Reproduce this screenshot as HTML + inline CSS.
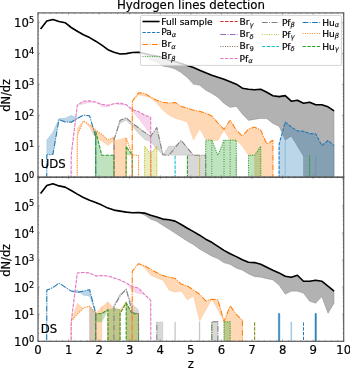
<!DOCTYPE html>
<html><head><meta charset="utf-8"><title>Hydrogen lines detection</title>
<style>html,body{margin:0;padding:0;background:#fff;overflow:hidden}svg{display:block}text{font-family:"DejaVu Sans","Liberation Sans",sans-serif;fill:#000;stroke:#000;stroke-width:0.18px}</style>
</head><body>
<svg width="350" height="368" viewBox="0 0 350 368">
<rect width="350" height="368" fill="#fff"/>
<defs>
<clipPath id="c1"><rect x="38.0" y="12.9" width="305.7" height="164.3"/></clipPath>
<clipPath id="c2"><rect x="38.0" y="177.2" width="305.7" height="164.1"/></clipPath>
</defs>
<g clip-path="url(#c1)">
<polygon points="40.6,29.1 46.8,21.1 52.9,19.5 59.0,21.5 65.1,22.7 71.2,27.5 77.3,31.2 83.4,34.8 89.6,37.6 95.7,41.2 101.8,45.2 107.9,49.7 114.0,52.3 120.1,54.0 126.2,53.6 132.3,52.5 138.5,52.2 144.6,53.5 150.7,55.1 156.8,56.1 162.9,57.5 169.0,60.2 175.1,61.4 181.2,63.4 187.4,65.6 193.5,67.6 199.6,70.2 205.7,72.8 211.8,75.2 217.9,77.3 224.0,79.3 230.2,81.7 236.3,84.2 242.4,88.2 248.5,89.2 254.6,89.8 260.7,89.2 266.8,92.2 272.9,95.8 279.1,96.6 285.2,95.6 291.3,101.2 297.4,100.2 303.5,103.2 309.6,102.2 315.7,104.8 321.8,104.8 328.0,106.8 334.1,110.8 334.1,3000.0 328.0,3000.0 321.8,3000.0 315.7,3000.0 309.6,3000.0 303.5,156.3 297.4,146.2 291.3,136.2 285.2,140.2 279.1,126.4 272.9,123.4 266.8,118.8 260.7,118.4 254.6,119.4 248.5,120.4 242.4,114.3 236.3,106.5 230.2,107.4 224.0,103.4 217.9,97.4 211.8,93.4 205.7,90.3 199.6,85.3 193.5,84.3 187.4,77.8 181.2,72.7 175.1,69.0 169.0,67.2 162.9,66.2 156.8,62.2 150.7,60.2 144.6,55.1 138.5,52.2 132.3,52.5 126.2,53.6 120.1,54.0 114.0,52.3 107.9,49.7 101.8,45.2 95.7,41.2 89.6,37.6 83.4,34.8 77.3,31.2 71.2,27.5 65.1,22.7 59.0,21.5 52.9,19.5 46.8,21.1 40.6,29.1" fill="#000" fill-opacity="0.30" stroke="#000" stroke-opacity="0.24" stroke-width="0.6"/>
<polygon points="40.6,3000.0 46.8,154.9 52.9,154.5 59.0,119.5 65.1,121.9 71.2,122.2 77.3,118.5 83.4,115.1 89.6,115.8 95.7,137.0 101.8,3000.0 101.8,3000.0 95.7,137.0 89.6,115.8 83.4,115.1 77.3,118.3 71.2,115.2 65.1,118.3 59.0,118.6 52.9,132.3 46.8,140.0 40.6,3000.0" fill="#1f77b4" fill-opacity="0.30" stroke="#1f77b4" stroke-opacity="0.24" stroke-width="0.6"/>
<polygon points="71.2,3000.0 77.3,135.5 83.4,120.9 89.6,124.9 95.7,130.0 101.8,134.5 107.9,139.9 114.0,137.4 120.1,3000.0 126.2,137.8 132.3,154.8 138.5,155.5 144.6,3000.0 144.6,3000.0 138.5,155.5 132.3,154.8 126.2,137.8 120.1,139.2 114.0,141.0 107.9,145.5 101.8,141.0 95.7,138.5 89.6,127.5 83.4,120.9 77.3,128.3 71.2,3000.0" fill="#ff7f0e" fill-opacity="0.30" stroke="#ff7f0e" stroke-opacity="0.24" stroke-width="0.6"/>
<polygon points="65.1,3000.0 71.2,155.3 77.3,105.2 83.4,101.2 89.6,100.8 95.7,102.2 101.8,104.2 107.9,105.2 114.0,103.7 120.1,103.0 126.2,104.7 132.3,109.6 138.5,111.6 144.6,115.2 150.7,117.3 156.8,3000.0 156.8,3000.0 150.7,135.0 144.6,126.3 138.5,118.3 132.3,111.2 126.2,105.2 120.1,105.0 114.0,103.7 107.9,107.0 101.8,106.5 95.7,102.2 89.6,102.5 83.4,104.0 77.3,105.2 71.2,155.3 65.1,3000.0" fill="#e377c2" fill-opacity="0.30" stroke="#e377c2" stroke-opacity="0.24" stroke-width="0.6"/>
<polygon points="89.6,3000.0 95.7,131.2 101.8,155.3 107.9,155.3 114.0,155.3 120.1,3000.0 120.1,3000.0 114.0,3000.0 107.9,3000.0 101.8,3000.0 95.7,3000.0 89.6,3000.0" fill="#2ca02c" fill-opacity="0.30" stroke="#2ca02c" stroke-opacity="0.24" stroke-width="0.6"/>
<polygon points="120.1,3000.0 126.2,146.5 132.3,155.0 138.5,3000.0 138.5,3000.0 132.3,155.0 126.2,155.0 120.1,3000.0" fill="#2ca02c" fill-opacity="0.30" stroke="#2ca02c" stroke-opacity="0.24" stroke-width="0.6"/>
<polygon points="107.9,3000.0 114.0,140.0 120.1,120.3 126.2,117.8 132.3,123.3 138.5,127.7 144.6,132.3 150.7,136.3 156.8,127.5 162.9,154.8 162.9,154.8 156.8,149.0 150.7,141.8 144.6,139.4 138.5,133.4 132.3,126.3 126.2,120.3 120.1,123.3 114.0,140.0 107.9,3000.0" fill="#7f7f7f" fill-opacity="0.30" stroke="#7f7f7f" stroke-opacity="0.24" stroke-width="0.6"/>
<polygon points="162.9,154.8 168.7,146.1 174.7,146.1 181.2,140.4 187.4,148.0 193.5,155.2 162.9,155.3" fill="#7f7f7f" fill-opacity="0.30" stroke="#7f7f7f" stroke-opacity="0.24" stroke-width="0.6"/>
<polygon points="187.5,155.2 205.7,155.3 205.8,3000.0 187.5,3000.0" fill="#7f7f7f" fill-opacity="0.30" stroke="#7f7f7f" stroke-opacity="0.24" stroke-width="0.6"/>
<polygon points="138.5,3000.0 144.6,146.2 150.7,154.1 156.8,146.2 162.9,3000.0 162.9,3000.0 156.8,3000.0 150.7,3000.0 144.6,3000.0 138.5,3000.0" fill="#bcbd22" fill-opacity="0.30" stroke="#bcbd22" stroke-opacity="0.24" stroke-width="0.6"/>
<polygon points="126.2,3000.0 132.3,101.2 138.5,92.7 144.6,93.5 150.7,97.1 156.8,100.2 162.9,102.2 169.0,103.2 175.1,102.4 181.2,106.4 187.4,108.2 193.5,110.2 199.6,111.2 205.7,113.2 211.8,116.0 217.9,123.0 224.0,129.3 230.2,120.2 236.3,130.2 242.4,136.2 248.5,129.1 254.6,127.1 260.7,130.1 266.8,144.2 272.9,140.2 279.1,3000.0 279.1,3000.0 272.9,3000.0 266.8,3000.0 260.7,3000.0 254.6,155.3 248.5,155.3 242.4,146.2 236.3,140.2 230.2,140.3 224.0,130.2 217.9,140.4 211.8,140.4 205.7,139.3 199.6,128.7 193.5,140.3 187.4,122.2 181.2,120.0 175.1,118.2 169.0,115.2 162.9,110.2 156.8,103.2 150.7,98.1 144.6,96.1 138.5,95.1 132.3,101.2 126.2,3000.0" fill="#ff7f0e" fill-opacity="0.30" stroke="#ff7f0e" stroke-opacity="0.24" stroke-width="0.6"/>
<polygon points="199.6,3000.0 205.7,140.2 211.8,140.2 217.9,155.3 224.0,140.2 230.2,140.2 236.3,140.2 242.4,3000.0 242.4,3000.0 236.3,3000.0 230.2,3000.0 224.0,3000.0 217.9,3000.0 211.8,3000.0 205.7,3000.0 199.6,3000.0" fill="#2ca02c" fill-opacity="0.30" stroke="#2ca02c" stroke-opacity="0.24" stroke-width="0.6"/>
<polygon points="242.4,3000.0 248.5,155.3 254.6,155.3 260.7,146.2 266.8,3000.0 266.8,3000.0 260.7,3000.0 254.6,3000.0 248.5,3000.0 242.4,3000.0" fill="#2ca02c" fill-opacity="0.30" stroke="#2ca02c" stroke-opacity="0.24" stroke-width="0.6"/>
<polygon points="272.9,3000.0 279.1,144.2 285.2,122.1 291.3,127.0 297.4,131.0 303.5,131.2 309.6,133.6 315.7,133.7 321.8,145.6 328.0,140.5 334.1,145.6 334.1,3000.0 328.0,3000.0 321.8,3000.0 315.7,3000.0 309.6,3000.0 303.5,3000.0 297.4,3000.0 291.3,3000.0 285.2,3000.0 279.1,3000.0 272.9,3000.0" fill="#1f77b4" fill-opacity="0.30" stroke="#1f77b4" stroke-opacity="0.24" stroke-width="0.6"/>
<polyline points="40.6,3000.0 46.8,154.9 52.9,154.5 59.0,119.5 65.1,121.9 71.2,122.2 77.3,118.5 83.4,115.1 89.6,115.8 95.7,137.0 101.8,3000.0" fill="none" stroke="#1f77b4" stroke-width="1.05" stroke-dasharray="5.7,1.45,0.9,1.45" stroke-linejoin="round"/>
<polyline points="71.2,3000.0 77.3,135.5 83.4,120.9 89.6,124.9 95.7,130.0 101.8,134.5 107.9,139.9 114.0,137.4 120.1,3000.0 126.2,137.8 132.3,154.8 138.5,155.5 144.6,3000.0" fill="none" stroke="#ff7f0e" stroke-width="1.05" stroke-dasharray="0.9,1.45" stroke-linejoin="round"/>
<polyline points="65.1,3000.0 71.2,155.3 77.3,105.2 83.4,101.2 89.6,100.8 95.7,102.2 101.8,104.2 107.9,105.2 114.0,103.7 120.1,103.0 126.2,104.7 132.3,109.6 138.5,111.6 144.6,115.2 150.7,117.3 156.8,3000.0" fill="none" stroke="#e377c2" stroke-width="1.05" stroke-dasharray="3.3,1.45" stroke-linejoin="round"/>
<polyline points="89.6,3000.0 95.7,131.2 101.8,155.3 107.9,155.3 114.0,155.3 120.1,3000.0" fill="none" stroke="#2ca02c" stroke-width="1.05" stroke-dasharray="3.3,1.45" stroke-linejoin="round"/>
<polyline points="120.1,3000.0 126.2,146.5 132.3,155.0 138.5,3000.0" fill="none" stroke="#2ca02c" stroke-width="1.05" stroke-dasharray="3.3,1.45" stroke-linejoin="round"/>
<polyline points="181.2,3000.0 187.4,155.3 193.5,3000.0" fill="none" stroke="#2ca02c" stroke-width="1.05" stroke-dasharray="3.3,1.45" stroke-linejoin="round"/>
<polyline points="107.9,3000.0 114.0,140.0 120.1,120.3 126.2,117.8 132.3,123.3 138.5,127.7 144.6,132.3 150.7,136.3 156.8,127.5 162.9,154.8 169.0,155.2 175.1,147.7 181.2,140.4 187.4,148.0 193.5,155.2 199.6,155.3 205.7,155.3 211.8,3000.0" fill="none" stroke="#7f7f7f" stroke-width="1.05" stroke-dasharray="5.7,1.45,0.9,1.45" stroke-linejoin="round"/>
<polyline points="138.5,3000.0 144.6,146.2 150.7,154.1 156.8,146.2 162.9,3000.0" fill="none" stroke="#bcbd22" stroke-width="1.05" stroke-dasharray="0.9,1.45" stroke-linejoin="round"/>
<polyline points="193.5,3000.0 199.6,155.3 205.7,3000.0" fill="none" stroke="#bcbd22" stroke-width="1.05" stroke-dasharray="0.9,1.45" stroke-linejoin="round"/>
<polyline points="150.7,154.1 150.7,3000.0" fill="none" stroke="#bcbd22" stroke-width="1.05" stroke-dasharray="0.9,1.45" stroke-linejoin="round"/>
<polyline points="150.7,155.2 150.7,3000.0" fill="none" stroke="#ff7f0e" stroke-width="1.05" stroke-dasharray="0.9,1.45" stroke-linejoin="round"/>
<polyline points="169.0,3000.0 175.1,155.3 181.2,3000.0" fill="none" stroke="#17becf" stroke-width="1.05" stroke-dasharray="3.3,1.45" stroke-linejoin="round"/>
<polyline points="126.2,3000.0 132.3,101.2 138.5,92.7 144.6,93.5 150.7,97.1 156.8,100.2 162.9,102.2 169.0,103.2 175.1,102.4 181.2,106.4 187.4,108.2 193.5,110.2 199.6,111.2 205.7,113.2 211.8,116.0 217.9,123.0 224.0,129.3 230.2,120.2 236.3,130.2 242.4,136.2 248.5,129.1 254.6,127.1 260.7,130.1 266.8,144.2 272.9,140.2 279.1,3000.0" fill="none" stroke="#ff7f0e" stroke-width="1.05" stroke-dasharray="5.7,1.45,0.9,1.45" stroke-linejoin="round"/>
<polyline points="199.6,3000.0 205.7,140.2 211.8,140.2 217.9,155.3 224.0,140.2 230.2,140.2 236.3,140.2 242.4,3000.0" fill="none" stroke="#2ca02c" stroke-width="1.05" stroke-dasharray="0.9,1.45" stroke-linejoin="round"/>
<polyline points="242.4,3000.0 248.5,155.3 254.6,155.3 260.7,146.2 266.8,3000.0" fill="none" stroke="#2ca02c" stroke-width="1.05" stroke-dasharray="0.9,1.45" stroke-linejoin="round"/>
<polyline points="303.5,3000.0 309.6,155.3 315.7,3000.0" fill="none" stroke="#2ca02c" stroke-width="1.05" stroke-dasharray="0.9,1.45" stroke-linejoin="round"/>
<polyline points="211.8,140.2 211.8,3000.0" fill="none" stroke="#2ca02c" stroke-width="1.05" stroke-dasharray="0.9,1.45" stroke-linejoin="round"/>
<polyline points="224.0,140.2 224.0,3000.0" fill="none" stroke="#2ca02c" stroke-width="1.05" stroke-dasharray="0.9,1.45" stroke-linejoin="round"/>
<polyline points="230.2,140.2 230.2,3000.0" fill="none" stroke="#2ca02c" stroke-width="1.05" stroke-dasharray="0.9,1.45" stroke-linejoin="round"/>
<polyline points="272.9,3000.0 279.1,144.2 285.2,122.1 291.3,127.0 297.4,131.0 303.5,131.2 309.6,133.6 315.7,133.7 321.8,145.6 328.0,140.5 334.1,145.6" fill="none" stroke="#1f77b4" stroke-width="1.05" stroke-dasharray="3.3,1.45" stroke-linejoin="round"/>
<polyline points="285.2,140.5 285.2,3000.0" fill="none" stroke="#1f77b4" stroke-width="0.60" stroke-opacity="0.45" stroke-linejoin="round"/>
<polyline points="315.7,155.3 315.7,3000.0" fill="none" stroke="#1f77b4" stroke-width="0.60" stroke-opacity="0.45" stroke-linejoin="round"/>
<polyline points="236.3,156.5 236.3,3000.0" fill="none" stroke="#7f7f7f" stroke-width="0.60" stroke-opacity="0.60" stroke-linejoin="round"/>
<polyline points="40.6,29.1 46.8,21.1 52.9,19.5 59.0,21.5 65.1,22.7 71.2,27.5 77.3,31.2 83.4,34.8 89.6,37.6 95.7,41.2 101.8,45.2 107.9,49.7 114.0,52.3 120.1,54.0 126.2,53.6 132.3,52.5 138.5,52.2 144.6,53.5 150.7,55.1 156.8,56.1 162.9,57.5 169.0,60.2 175.1,61.4 181.2,63.4 187.4,65.6 193.5,67.6 199.6,70.2 205.7,72.8 211.8,75.2 217.9,77.3 224.0,79.3 230.2,81.7 236.3,84.2 242.4,88.2 248.5,89.2 254.6,89.8 260.7,89.2 266.8,92.2 272.9,95.8 279.1,96.6 285.2,95.6 291.3,101.2 297.4,100.2 303.5,103.2 309.6,102.2 315.7,104.8 321.8,104.8 328.0,106.8 334.1,110.8" fill="none" stroke="#000" stroke-width="1.60" stroke-linejoin="round"/>
</g>
<g clip-path="url(#c2)">
<polygon points="40.6,193.5 46.8,185.5 52.9,183.7 59.0,185.9 65.1,187.1 71.2,190.5 77.3,194.1 83.4,197.5 89.6,200.2 95.7,202.5 101.8,205.1 107.9,208.1 114.0,210.1 120.1,211.1 126.2,212.1 132.3,212.7 138.5,212.5 144.6,213.1 150.7,215.2 156.8,216.9 162.9,219.1 169.0,219.7 175.1,221.1 181.2,224.5 187.4,228.2 193.5,231.6 199.6,235.2 205.7,239.2 211.8,242.3 217.9,246.4 224.0,250.4 230.2,253.7 236.3,256.6 242.4,259.8 248.5,262.2 254.6,262.6 260.7,264.2 266.8,267.2 272.9,270.2 279.1,272.9 285.2,276.2 291.3,277.2 297.4,275.2 303.5,281.2 309.6,281.2 315.7,280.2 321.8,281.2 328.0,286.2 334.1,291.2 334.1,303.3 328.0,313.4 321.8,296.7 315.7,303.3 309.6,301.3 303.5,293.3 297.4,291.2 291.3,291.2 285.2,294.3 279.1,285.2 272.9,279.9 266.8,278.7 260.7,277.3 254.6,276.7 248.5,273.9 242.4,270.2 236.3,268.2 230.2,264.6 224.0,262.8 217.9,258.8 211.8,256.3 205.7,252.7 199.6,249.3 193.5,244.7 187.4,241.2 181.2,237.2 175.1,233.2 169.0,229.2 162.9,225.5 156.8,221.6 150.7,219.2 144.6,215.2 138.5,212.5 132.3,212.7 126.2,212.1 120.1,211.1 114.0,210.1 107.9,208.1 101.8,205.1 95.7,202.5 89.6,200.2 83.4,197.5 77.3,194.1 71.2,190.5 65.1,187.1 59.0,185.9 52.9,183.7 46.8,185.5 40.6,193.5" fill="#000" fill-opacity="0.30" stroke="#000" stroke-opacity="0.24" stroke-width="0.6"/>
<polygon points="40.6,3000.0 46.8,290.1 52.9,287.7 59.0,283.1 65.1,287.1 71.2,291.1 77.3,292.5 83.4,291.1 89.6,289.7 95.7,313.3 101.8,3000.0 101.8,3000.0 95.7,313.3 89.6,296.2 83.4,295.2 77.3,290.1 71.2,291.1 65.1,287.1 59.0,283.1 52.9,287.7 46.8,290.1 40.6,3000.0" fill="#1f77b4" fill-opacity="0.30" stroke="#1f77b4" stroke-opacity="0.24" stroke-width="0.6"/>
<polygon points="65.1,3000.0 71.2,322.5 77.3,273.0 83.4,272.4 89.6,273.0 95.7,276.0 101.8,275.6 107.9,276.0 114.0,278.0 120.1,280.1 126.2,282.9 132.3,286.6 138.5,288.0 144.6,294.6 150.7,300.3 156.8,3000.0 156.8,3000.0 150.7,300.3 144.6,294.6 138.5,293.5 132.3,291.0 126.2,282.9 120.1,280.1 114.0,278.0 107.9,276.0 101.8,275.6 95.7,276.0 89.6,273.0 83.4,272.4 77.3,273.0 71.2,322.5 65.1,3000.0" fill="#e377c2" fill-opacity="0.30" stroke="#e377c2" stroke-opacity="0.24" stroke-width="0.6"/>
<polygon points="71.2,321.3 77.3,314.3 83.4,308.2 89.6,306.2 83.4,308.2 77.3,303.2" fill="#ff7f0e" fill-opacity="0.30" stroke="#ff7f0e" stroke-opacity="0.24" stroke-width="0.6"/>
<polygon points="89.6,306.2 95.7,313.3 95.7,3000.0 89.6,3000.0" fill="#ff7f0e" fill-opacity="0.30" stroke="#ff7f0e" stroke-opacity="0.24" stroke-width="0.6"/>
<polygon points="89.6,306.2 95.7,313.3 95.7,3000.0 89.6,3000.0" fill="#1f77b4" fill-opacity="0.18" stroke="#1f77b4" stroke-opacity="0.14" stroke-width="0.6"/>
<polygon points="95.7,313.3 101.8,306.8 101.8,3000.0 95.7,3000.0" fill="#ff7f0e" fill-opacity="0.30" stroke="#ff7f0e" stroke-opacity="0.24" stroke-width="0.6"/>
<polygon points="101.8,306.8 107.9,301.9 107.9,309.8 101.8,313.5" fill="#ff7f0e" fill-opacity="0.30" stroke="#ff7f0e" stroke-opacity="0.24" stroke-width="0.6"/>
<polygon points="107.9,301.9 114.0,308.2 120.1,309.6 120.1,3000.0 107.9,3000.0" fill="#ff7f0e" fill-opacity="0.30" stroke="#ff7f0e" stroke-opacity="0.24" stroke-width="0.6"/>
<polygon points="120.1,309.6 126.2,301.6 126.2,302.8 120.1,313.6" fill="#ff7f0e" fill-opacity="0.30" stroke="#ff7f0e" stroke-opacity="0.24" stroke-width="0.6"/>
<polygon points="126.2,302.8 132.3,313.8 138.5,313.8 138.5,3000.0 126.2,3000.0" fill="#ff7f0e" fill-opacity="0.30" stroke="#ff7f0e" stroke-opacity="0.24" stroke-width="0.6"/>
<polygon points="95.7,313.9 101.8,313.5 107.9,309.8 101.8,321.8 95.7,321.8" fill="#2ca02c" fill-opacity="0.30" stroke="#2ca02c" stroke-opacity="0.24" stroke-width="0.6"/>
<polygon points="107.9,309.8 114.0,308.2 120.1,309.6 120.1,3000.0 107.9,3000.0" fill="#2ca02c" fill-opacity="0.30" stroke="#2ca02c" stroke-opacity="0.24" stroke-width="0.6"/>
<polygon points="126.2,302.8 132.3,313.8 138.5,313.8 138.5,3000.0 126.2,3000.0" fill="#2ca02c" fill-opacity="0.30" stroke="#2ca02c" stroke-opacity="0.24" stroke-width="0.6"/>
<polygon points="114.0,306.5 120.1,296.0 126.2,289.1 132.3,312.6 138.5,313.7 138.5,309.7 132.3,304.6 126.2,289.1 120.1,293.8 114.0,304.5" fill="#7f7f7f" fill-opacity="0.30" stroke="#7f7f7f" stroke-opacity="0.24" stroke-width="0.6"/>
<polygon points="156.8,322.0 162.9,322.0 162.9,3000.0 156.8,3000.0" fill="#7f7f7f" fill-opacity="0.30" stroke="#7f7f7f" stroke-opacity="0.24" stroke-width="0.6"/>
<polygon points="211.8,321.8 217.9,321.8 217.9,3000.0 211.8,3000.0" fill="#7f7f7f" fill-opacity="0.30" stroke="#7f7f7f" stroke-opacity="0.24" stroke-width="0.6"/>
<polygon points="126.2,3000.0 132.3,271.1 138.5,263.7 144.6,265.7 150.7,269.3 156.8,272.7 162.9,275.6 169.0,277.1 175.1,278.4 181.2,284.1 187.4,286.0 193.5,290.0 199.6,294.2 205.7,300.9 211.8,299.2 217.9,299.8 224.0,321.5 230.2,305.8 236.3,314.3 242.4,320.3 248.5,3000.0 248.5,3000.0 242.4,3000.0 236.3,3000.0 230.2,3000.0 224.0,321.5 217.9,310.0 211.8,299.2 205.7,310.2 199.6,321.2 193.5,296.0 187.4,300.0 181.2,291.1 175.1,292.2 169.0,290.2 162.9,280.2 156.8,278.0 150.7,275.2 144.6,268.1 138.5,263.7 132.3,271.1 126.2,3000.0" fill="#ff7f0e" fill-opacity="0.30" stroke="#ff7f0e" stroke-opacity="0.24" stroke-width="0.6"/>
<polygon points="224.0,321.8 230.2,321.8 230.2,3000.0 224.0,3000.0" fill="#2ca02c" fill-opacity="0.30" stroke="#2ca02c" stroke-opacity="0.24" stroke-width="0.6"/>
<polygon points="278.4,313.5 279.8,313.5 279.8,3000.0 278.4,3000.0" fill="#1f77b4" fill-opacity="0.90" stroke="#1f77b4" stroke-opacity="0.72" stroke-width="0.6"/>
<polygon points="315.0,313.5 316.4,313.5 316.4,3000.0 315.0,3000.0" fill="#1f77b4" fill-opacity="0.90" stroke="#1f77b4" stroke-opacity="0.72" stroke-width="0.6"/>
<polygon points="290.8,322.0 291.8,322.0 291.8,3000.0 290.8,3000.0" fill="#1f77b4" fill-opacity="0.35" stroke="#1f77b4" stroke-opacity="0.28" stroke-width="0.6"/>
<polygon points="174.7,322.0 175.5,322.0 175.5,3000.0 174.7,3000.0" fill="#7f7f7f" fill-opacity="0.35" stroke="#7f7f7f" stroke-opacity="0.28" stroke-width="0.6"/>
<polygon points="199.2,322.0 200.0,322.0 200.0,3000.0 199.2,3000.0" fill="#7f7f7f" fill-opacity="0.35" stroke="#7f7f7f" stroke-opacity="0.28" stroke-width="0.6"/>
<polyline points="40.6,3000.0 46.8,290.1 52.9,287.7 59.0,283.1 65.1,287.1 71.2,291.1 77.3,292.5 83.4,291.1 89.6,289.7 95.7,313.3 101.8,3000.0" fill="none" stroke="#1f77b4" stroke-width="1.05" stroke-dasharray="5.7,1.45,0.9,1.45" stroke-linejoin="round"/>
<polyline points="65.1,3000.0 71.2,321.3 77.3,314.3 83.4,308.2 89.6,306.2 95.7,313.3 95.7,3000.0" fill="none" stroke="#ff7f0e" stroke-width="1.05" stroke-dasharray="0.9,1.45" stroke-linejoin="round"/>
<polyline points="95.7,313.5 101.8,313.5 107.9,309.8 107.9,3000.0" fill="none" stroke="#ff7f0e" stroke-width="1.05" stroke-dasharray="0.9,1.45" stroke-linejoin="round"/>
<polyline points="114.0,3000.0 120.1,313.6 126.2,302.8 132.3,313.8 138.5,313.8 144.6,3000.0" fill="none" stroke="#ff7f0e" stroke-width="1.05" stroke-dasharray="0.9,1.45" stroke-linejoin="round"/>
<polyline points="65.1,3000.0 71.2,322.5 77.3,273.0 83.4,272.4 89.6,273.0 95.7,276.0 101.8,275.6 107.9,276.0 114.0,278.0 120.1,280.1 126.2,282.9 132.3,286.6 138.5,288.0 144.6,294.6 150.7,300.3 156.8,3000.0" fill="none" stroke="#e377c2" stroke-width="1.05" stroke-dasharray="3.3,1.45" stroke-linejoin="round"/>
<polyline points="89.6,3000.0 95.7,313.9 101.8,313.5 107.9,309.8 114.0,3000.0" fill="none" stroke="#2ca02c" stroke-width="1.05" stroke-dasharray="3.3,1.45" stroke-linejoin="round"/>
<polyline points="114.0,3000.0 120.1,313.6 126.2,302.8 132.3,313.8 138.5,313.8 144.6,3000.0" fill="none" stroke="#2ca02c" stroke-width="1.05" stroke-dasharray="3.3,1.45" stroke-linejoin="round"/>
<polyline points="126.2,302.8 126.2,3000.0" fill="none" stroke="#2ca02c" stroke-width="1.05" stroke-dasharray="3.3,1.45" stroke-linejoin="round"/>
<polyline points="107.9,3000.0 114.0,306.5 120.1,296.0 126.2,289.1 132.3,312.6 138.5,313.7 144.6,3000.0" fill="none" stroke="#7f7f7f" stroke-width="1.05" stroke-dasharray="5.7,1.45,0.9,1.45" stroke-linejoin="round"/>
<polyline points="156.8,3000.0 156.8,322.0" fill="none" stroke="#7f7f7f" stroke-width="1.05" stroke-dasharray="5.7,1.45,0.9,1.45" stroke-linejoin="round"/>
<polyline points="211.8,3000.0 211.8,321.8 217.9,321.8 217.9,3000.0" fill="none" stroke="#7f7f7f" stroke-width="1.05" stroke-dasharray="5.7,1.45,0.9,1.45" stroke-linejoin="round"/>
<polyline points="126.2,3000.0 132.3,271.1 138.5,263.7 144.6,265.7 150.7,269.3 156.8,272.7 162.9,275.6 169.0,277.1 175.1,278.4 181.2,284.1 187.4,286.0 193.5,290.0 199.6,294.2 205.7,300.9 211.8,299.2 217.9,299.8 224.0,321.5 230.2,305.8 236.3,314.3 242.4,320.3 248.5,3000.0" fill="none" stroke="#ff7f0e" stroke-width="1.05" stroke-dasharray="5.7,1.45,0.9,1.45" stroke-linejoin="round"/>
<polyline points="211.8,3000.0 211.8,321.8" fill="none" stroke="#2ca02c" stroke-width="1.05" stroke-dasharray="0.9,1.45" stroke-linejoin="round"/>
<polyline points="224.0,3000.0 224.0,321.8 230.2,321.8 230.2,3000.0" fill="none" stroke="#2ca02c" stroke-width="1.05" stroke-dasharray="0.9,1.45" stroke-linejoin="round"/>
<polyline points="254.6,3000.0 254.6,321.9" fill="none" stroke="#2ca02c" stroke-width="1.05" stroke-dasharray="3.3,1.45" stroke-linejoin="round"/>
<polyline points="254.6,3000.0 254.6,321.9" fill="none" stroke="#ff7f0e" stroke-width="1.05" stroke-dasharray="0.9,1.45" stroke-linejoin="round"/>
<polyline points="303.5,3000.0 303.5,322.0" fill="none" stroke="#1f77b4" stroke-width="1.05" stroke-dasharray="3.3,1.45" stroke-linejoin="round"/>
<polyline points="40.6,193.5 46.8,185.5 52.9,183.7 59.0,185.9 65.1,187.1 71.2,190.5 77.3,194.1 83.4,197.5 89.6,200.2 95.7,202.5 101.8,205.1 107.9,208.1 114.0,210.1 120.1,211.1 126.2,212.1 132.3,212.7 138.5,212.5 144.6,213.1 150.7,215.2 156.8,216.9 162.9,219.1 169.0,219.7 175.1,221.1 181.2,224.5 187.4,228.2 193.5,231.6 199.6,235.2 205.7,239.2 211.8,242.3 217.9,246.4 224.0,250.4 230.2,253.7 236.3,256.6 242.4,259.8 248.5,262.2 254.6,262.6 260.7,264.2 266.8,267.2 272.9,270.2 279.1,272.9 285.2,276.2 291.3,277.2 297.4,275.2 303.5,281.2 309.6,281.2 315.7,280.2 321.8,281.2 328.0,286.2 334.1,291.2" fill="none" stroke="#000" stroke-width="1.60" stroke-linejoin="round"/>
</g>
<g>
<path d="M38.00 177.20v-1.80 M38.00 12.90v1.80 M44.11 177.20v-1.10 M44.11 12.90v1.10 M50.23 177.20v-1.10 M50.23 12.90v1.10 M56.34 177.20v-1.10 M56.34 12.90v1.10 M62.46 177.20v-1.10 M62.46 12.90v1.10 M68.57 177.20v-1.80 M68.57 12.90v1.80 M74.68 177.20v-1.10 M74.68 12.90v1.10 M80.80 177.20v-1.10 M80.80 12.90v1.10 M86.91 177.20v-1.10 M86.91 12.90v1.10 M93.03 177.20v-1.10 M93.03 12.90v1.10 M99.14 177.20v-1.80 M99.14 12.90v1.80 M105.25 177.20v-1.10 M105.25 12.90v1.10 M111.37 177.20v-1.10 M111.37 12.90v1.10 M117.48 177.20v-1.10 M117.48 12.90v1.10 M123.60 177.20v-1.10 M123.60 12.90v1.10 M129.71 177.20v-1.80 M129.71 12.90v1.80 M135.82 177.20v-1.10 M135.82 12.90v1.10 M141.94 177.20v-1.10 M141.94 12.90v1.10 M148.05 177.20v-1.10 M148.05 12.90v1.10 M154.17 177.20v-1.10 M154.17 12.90v1.10 M160.28 177.20v-1.80 M160.28 12.90v1.80 M166.39 177.20v-1.10 M166.39 12.90v1.10 M172.51 177.20v-1.10 M172.51 12.90v1.10 M178.62 177.20v-1.10 M178.62 12.90v1.10 M184.74 177.20v-1.10 M184.74 12.90v1.10 M190.85 177.20v-1.80 M190.85 12.90v1.80 M196.96 177.20v-1.10 M196.96 12.90v1.10 M203.08 177.20v-1.10 M203.08 12.90v1.10 M209.19 177.20v-1.10 M209.19 12.90v1.10 M215.31 177.20v-1.10 M215.31 12.90v1.10 M221.42 177.20v-1.80 M221.42 12.90v1.80 M227.53 177.20v-1.10 M227.53 12.90v1.10 M233.65 177.20v-1.10 M233.65 12.90v1.10 M239.76 177.20v-1.10 M239.76 12.90v1.10 M245.88 177.20v-1.10 M245.88 12.90v1.10 M251.99 177.20v-1.80 M251.99 12.90v1.80 M258.10 177.20v-1.10 M258.10 12.90v1.10 M264.22 177.20v-1.10 M264.22 12.90v1.10 M270.33 177.20v-1.10 M270.33 12.90v1.10 M276.45 177.20v-1.10 M276.45 12.90v1.10 M282.56 177.20v-1.80 M282.56 12.90v1.80 M288.67 177.20v-1.10 M288.67 12.90v1.10 M294.79 177.20v-1.10 M294.79 12.90v1.10 M300.90 177.20v-1.10 M300.90 12.90v1.10 M307.02 177.20v-1.10 M307.02 12.90v1.10 M313.13 177.20v-1.80 M313.13 12.90v1.80 M319.24 177.20v-1.10 M319.24 12.90v1.10 M325.36 177.20v-1.10 M325.36 12.90v1.10 M331.47 177.20v-1.10 M331.47 12.90v1.10 M337.59 177.20v-1.10 M337.59 12.90v1.10 M343.70 177.20v-1.80 M343.70 12.90v1.80 M38.00 341.30v-1.80 M38.00 177.20v1.80 M44.11 341.30v-1.10 M44.11 177.20v1.10 M50.23 341.30v-1.10 M50.23 177.20v1.10 M56.34 341.30v-1.10 M56.34 177.20v1.10 M62.46 341.30v-1.10 M62.46 177.20v1.10 M68.57 341.30v-1.80 M68.57 177.20v1.80 M74.68 341.30v-1.10 M74.68 177.20v1.10 M80.80 341.30v-1.10 M80.80 177.20v1.10 M86.91 341.30v-1.10 M86.91 177.20v1.10 M93.03 341.30v-1.10 M93.03 177.20v1.10 M99.14 341.30v-1.80 M99.14 177.20v1.80 M105.25 341.30v-1.10 M105.25 177.20v1.10 M111.37 341.30v-1.10 M111.37 177.20v1.10 M117.48 341.30v-1.10 M117.48 177.20v1.10 M123.60 341.30v-1.10 M123.60 177.20v1.10 M129.71 341.30v-1.80 M129.71 177.20v1.80 M135.82 341.30v-1.10 M135.82 177.20v1.10 M141.94 341.30v-1.10 M141.94 177.20v1.10 M148.05 341.30v-1.10 M148.05 177.20v1.10 M154.17 341.30v-1.10 M154.17 177.20v1.10 M160.28 341.30v-1.80 M160.28 177.20v1.80 M166.39 341.30v-1.10 M166.39 177.20v1.10 M172.51 341.30v-1.10 M172.51 177.20v1.10 M178.62 341.30v-1.10 M178.62 177.20v1.10 M184.74 341.30v-1.10 M184.74 177.20v1.10 M190.85 341.30v-1.80 M190.85 177.20v1.80 M196.96 341.30v-1.10 M196.96 177.20v1.10 M203.08 341.30v-1.10 M203.08 177.20v1.10 M209.19 341.30v-1.10 M209.19 177.20v1.10 M215.31 341.30v-1.10 M215.31 177.20v1.10 M221.42 341.30v-1.80 M221.42 177.20v1.80 M227.53 341.30v-1.10 M227.53 177.20v1.10 M233.65 341.30v-1.10 M233.65 177.20v1.10 M239.76 341.30v-1.10 M239.76 177.20v1.10 M245.88 341.30v-1.10 M245.88 177.20v1.10 M251.99 341.30v-1.80 M251.99 177.20v1.80 M258.10 341.30v-1.10 M258.10 177.20v1.10 M264.22 341.30v-1.10 M264.22 177.20v1.10 M270.33 341.30v-1.10 M270.33 177.20v1.10 M276.45 341.30v-1.10 M276.45 177.20v1.10 M282.56 341.30v-1.80 M282.56 177.20v1.80 M288.67 341.30v-1.10 M288.67 177.20v1.10 M294.79 341.30v-1.10 M294.79 177.20v1.10 M300.90 341.30v-1.10 M300.90 177.20v1.10 M307.02 341.30v-1.10 M307.02 177.20v1.10 M313.13 341.30v-1.80 M313.13 177.20v1.80 M319.24 341.30v-1.10 M319.24 177.20v1.10 M325.36 341.30v-1.10 M325.36 177.20v1.10 M331.47 341.30v-1.10 M331.47 177.20v1.10 M337.59 341.30v-1.10 M337.59 177.20v1.10 M343.70 341.30v-1.80 M343.70 177.20v1.80 M38.00 177.20h1.80 M343.70 177.20h-1.80 M38.00 167.87h1.10 M343.70 167.87h-1.10 M38.00 162.41h1.10 M343.70 162.41h-1.10 M38.00 158.54h1.10 M343.70 158.54h-1.10 M38.00 155.54h1.10 M343.70 155.54h-1.10 M38.00 153.08h1.10 M343.70 153.08h-1.10 M38.00 151.01h1.10 M343.70 151.01h-1.10 M38.00 149.21h1.10 M343.70 149.21h-1.10 M38.00 147.62h1.10 M343.70 147.62h-1.10 M38.00 146.21h1.80 M343.70 146.21h-1.80 M38.00 136.88h1.10 M343.70 136.88h-1.10 M38.00 131.42h1.10 M343.70 131.42h-1.10 M38.00 127.55h1.10 M343.70 127.55h-1.10 M38.00 124.54h1.10 M343.70 124.54h-1.10 M38.00 122.09h1.10 M343.70 122.09h-1.10 M38.00 120.01h1.10 M343.70 120.01h-1.10 M38.00 118.22h1.10 M343.70 118.22h-1.10 M38.00 116.63h1.10 M343.70 116.63h-1.10 M38.00 115.21h1.80 M343.70 115.21h-1.80 M38.00 105.88h1.10 M343.70 105.88h-1.10 M38.00 100.42h1.10 M343.70 100.42h-1.10 M38.00 96.55h1.10 M343.70 96.55h-1.10 M38.00 93.55h1.10 M343.70 93.55h-1.10 M38.00 91.09h1.10 M343.70 91.09h-1.10 M38.00 89.02h1.10 M343.70 89.02h-1.10 M38.00 87.22h1.10 M343.70 87.22h-1.10 M38.00 85.64h1.10 M343.70 85.64h-1.10 M38.00 84.22h1.80 M343.70 84.22h-1.80 M38.00 74.89h1.10 M343.70 74.89h-1.10 M38.00 69.43h1.10 M343.70 69.43h-1.10 M38.00 65.56h1.10 M343.70 65.56h-1.10 M38.00 62.55h1.10 M343.70 62.55h-1.10 M38.00 60.10h1.10 M343.70 60.10h-1.10 M38.00 58.03h1.10 M343.70 58.03h-1.10 M38.00 56.23h1.10 M343.70 56.23h-1.10 M38.00 54.64h1.10 M343.70 54.64h-1.10 M38.00 53.22h1.80 M343.70 53.22h-1.80 M38.00 43.89h1.10 M343.70 43.89h-1.10 M38.00 38.44h1.10 M343.70 38.44h-1.10 M38.00 34.56h1.10 M343.70 34.56h-1.10 M38.00 31.56h1.10 M343.70 31.56h-1.10 M38.00 29.11h1.10 M343.70 29.11h-1.10 M38.00 27.03h1.10 M343.70 27.03h-1.10 M38.00 25.23h1.10 M343.70 25.23h-1.10 M38.00 23.65h1.10 M343.70 23.65h-1.10 M38.00 22.23h1.80 M343.70 22.23h-1.80 M38.00 12.90h1.10 M343.70 12.90h-1.10 M38.00 341.30h1.80 M343.70 341.30h-1.80 M38.00 333.14h1.10 M343.70 333.14h-1.10 M38.00 328.37h1.10 M343.70 328.37h-1.10 M38.00 324.98h1.10 M343.70 324.98h-1.10 M38.00 322.36h1.10 M343.70 322.36h-1.10 M38.00 320.21h1.10 M343.70 320.21h-1.10 M38.00 318.40h1.10 M343.70 318.40h-1.10 M38.00 316.83h1.10 M343.70 316.83h-1.10 M38.00 315.44h1.10 M343.70 315.44h-1.10 M38.00 314.20h1.80 M343.70 314.20h-1.80 M38.00 306.04h1.10 M343.70 306.04h-1.10 M38.00 301.27h1.10 M343.70 301.27h-1.10 M38.00 297.88h1.10 M343.70 297.88h-1.10 M38.00 295.26h1.10 M343.70 295.26h-1.10 M38.00 293.11h1.10 M343.70 293.11h-1.10 M38.00 291.30h1.10 M343.70 291.30h-1.10 M38.00 289.73h1.10 M343.70 289.73h-1.10 M38.00 288.34h1.10 M343.70 288.34h-1.10 M38.00 287.10h1.80 M343.70 287.10h-1.80 M38.00 278.94h1.10 M343.70 278.94h-1.10 M38.00 274.17h1.10 M343.70 274.17h-1.10 M38.00 270.78h1.10 M343.70 270.78h-1.10 M38.00 268.16h1.10 M343.70 268.16h-1.10 M38.00 266.01h1.10 M343.70 266.01h-1.10 M38.00 264.20h1.10 M343.70 264.20h-1.10 M38.00 262.63h1.10 M343.70 262.63h-1.10 M38.00 261.24h1.10 M343.70 261.24h-1.10 M38.00 260.00h1.80 M343.70 260.00h-1.80 M38.00 251.84h1.10 M343.70 251.84h-1.10 M38.00 247.07h1.10 M343.70 247.07h-1.10 M38.00 243.68h1.10 M343.70 243.68h-1.10 M38.00 241.06h1.10 M343.70 241.06h-1.10 M38.00 238.91h1.10 M343.70 238.91h-1.10 M38.00 237.10h1.10 M343.70 237.10h-1.10 M38.00 235.53h1.10 M343.70 235.53h-1.10 M38.00 234.14h1.10 M343.70 234.14h-1.10 M38.00 232.90h1.80 M343.70 232.90h-1.80 M38.00 224.74h1.10 M343.70 224.74h-1.10 M38.00 219.97h1.10 M343.70 219.97h-1.10 M38.00 216.58h1.10 M343.70 216.58h-1.10 M38.00 213.96h1.10 M343.70 213.96h-1.10 M38.00 211.81h1.10 M343.70 211.81h-1.10 M38.00 210.00h1.10 M343.70 210.00h-1.10 M38.00 208.43h1.10 M343.70 208.43h-1.10 M38.00 207.04h1.10 M343.70 207.04h-1.10 M38.00 205.80h1.80 M343.70 205.80h-1.80 M38.00 197.64h1.10 M343.70 197.64h-1.10 M38.00 192.87h1.10 M343.70 192.87h-1.10 M38.00 189.48h1.10 M343.70 189.48h-1.10 M38.00 186.86h1.10 M343.70 186.86h-1.10 M38.00 184.71h1.10 M343.70 184.71h-1.10 M38.00 182.90h1.10 M343.70 182.90h-1.10 M38.00 181.33h1.10 M343.70 181.33h-1.10 M38.00 179.94h1.10 M343.70 179.94h-1.10 M38.00 178.70h1.80 M343.70 178.70h-1.80" stroke="#555" stroke-width="0.5" fill="none"/>
<rect x="38.0" y="12.9" width="305.7" height="164.3" fill="none" stroke="#555" stroke-width="1.15"/>
<rect x="38.0" y="177.2" width="305.7" height="164.1" fill="none" stroke="#555" stroke-width="1.15"/>
</g>
<g>
<rect x="140.4" y="15.4" width="201.0" height="50" rx="1.6" fill="#fff" fill-opacity="0.8" stroke="#ccc" stroke-width="0.8"/>
<line x1="142.5" y1="21.5" x2="159.6" y2="21.5" stroke="#000" stroke-width="1.60"/>
<text x="161.2" y="25.1" font-size="9.1">Full sample</text>
<line x1="142.5" y1="32.5" x2="159.6" y2="32.5" stroke="#1f77b4" stroke-width="1.00" stroke-dasharray="3.3,1.45"/>
<text x="161.2" y="35.4" font-size="9.1">Pa<tspan dy="1.9" font-size="6.8" stroke-width="0.1" font-style="italic">α</tspan></text>
<line x1="142.5" y1="44.5" x2="159.6" y2="44.5" stroke="#ff7f0e" stroke-width="1.00" stroke-dasharray="5.7,1.45,0.9,1.45"/>
<text x="161.2" y="47.4" font-size="9.1">Br<tspan dy="1.9" font-size="6.8" stroke-width="0.1" font-style="italic">α</tspan></text>
<line x1="142.5" y1="56.5" x2="159.6" y2="56.5" stroke="#2ca02c" stroke-width="1.00" stroke-dasharray="0.9,1.45"/>
<text x="161.2" y="59.4" font-size="9.1">Br<tspan dy="1.9" font-size="6.8" stroke-width="0.1" font-style="italic">β</tspan></text>
<line x1="220.3" y1="21.5" x2="237.6" y2="21.5" stroke="#d62728" stroke-width="1.00" stroke-dasharray="3.3,1.45"/>
<text x="239.5" y="24.9" font-size="9.1">Br<tspan dy="1.9" font-size="6.8" stroke-width="0.1" font-style="italic">γ</tspan></text>
<line x1="220.3" y1="34.5" x2="237.6" y2="34.5" stroke="#9467bd" stroke-width="1.00" stroke-dasharray="5.7,1.45,0.9,1.45"/>
<text x="239.5" y="37.4" font-size="9.1">Br<tspan dy="1.9" font-size="6.8" stroke-width="0.1" font-style="italic">δ</tspan></text>
<line x1="220.3" y1="46.5" x2="237.6" y2="46.5" stroke="#8c564b" stroke-width="1.00" stroke-dasharray="0.9,1.45"/>
<text x="239.5" y="49.3" font-size="9.1">Br<tspan dy="1.9" font-size="6.8" stroke-width="0.1">9</tspan></text>
<line x1="220.3" y1="58.5" x2="237.6" y2="58.5" stroke="#e377c2" stroke-width="1.00" stroke-dasharray="3.3,1.45"/>
<text x="239.5" y="61.5" font-size="9.1">Pf<tspan dy="1.9" font-size="6.8" stroke-width="0.1" font-style="italic">α</tspan></text>
<line x1="262.0" y1="22.5" x2="279.0" y2="22.5" stroke="#7f7f7f" stroke-width="1.00" stroke-dasharray="5.7,1.45,0.9,1.45"/>
<text x="281.9" y="25.5" font-size="9.1">Pf<tspan dy="1.9" font-size="6.8" stroke-width="0.1" font-style="italic">β</tspan></text>
<line x1="262.0" y1="34.5" x2="279.0" y2="34.5" stroke="#bcbd22" stroke-width="1.00" stroke-dasharray="0.9,1.45"/>
<text x="281.9" y="37.5" font-size="9.1">Pf<tspan dy="1.9" font-size="6.8" stroke-width="0.1" font-style="italic">γ</tspan></text>
<line x1="262.0" y1="46.5" x2="279.0" y2="46.5" stroke="#17becf" stroke-width="1.00" stroke-dasharray="3.3,1.45"/>
<text x="281.9" y="49.5" font-size="9.1">Pf<tspan dy="1.9" font-size="6.8" stroke-width="0.1" font-style="italic">δ</tspan></text>
<line x1="302.6" y1="22.5" x2="320.0" y2="22.5" stroke="#1f77b4" stroke-width="1.00" stroke-dasharray="5.7,1.45,0.9,1.45"/>
<text x="322.2" y="25.5" font-size="9.1">Hu<tspan dy="1.9" font-size="6.8" stroke-width="0.1" font-style="italic">α</tspan></text>
<line x1="302.6" y1="33.5" x2="320.0" y2="33.5" stroke="#ff7f0e" stroke-width="1.00" stroke-dasharray="0.9,1.45"/>
<text x="322.2" y="36.5" font-size="9.1">Hu<tspan dy="1.9" font-size="6.8" stroke-width="0.1" font-style="italic">β</tspan></text>
<line x1="302.6" y1="46.5" x2="320.0" y2="46.5" stroke="#2ca02c" stroke-width="1.00" stroke-dasharray="3.3,1.45"/>
<text x="322.2" y="49.5" font-size="9.1">Hu<tspan dy="1.9" font-size="6.8" stroke-width="0.1" font-style="italic">γ</tspan></text>
</g>
<g>
<text x="34.1" y="182.1" text-anchor="end" font-size="11.7">10<tspan dy="-4.4" font-size="8.2">0</tspan></text>
<text x="34.1" y="151.1" text-anchor="end" font-size="11.7">10<tspan dy="-4.4" font-size="8.2">1</tspan></text>
<text x="34.1" y="120.1" text-anchor="end" font-size="11.7">10<tspan dy="-4.4" font-size="8.2">2</tspan></text>
<text x="34.1" y="89.1" text-anchor="end" font-size="11.7">10<tspan dy="-4.4" font-size="8.2">3</tspan></text>
<text x="34.1" y="58.1" text-anchor="end" font-size="11.7">10<tspan dy="-4.4" font-size="8.2">4</tspan></text>
<text x="34.1" y="27.1" text-anchor="end" font-size="11.7">10<tspan dy="-4.4" font-size="8.2">5</tspan></text>
<text x="34.1" y="346.2" text-anchor="end" font-size="11.7">10<tspan dy="-4.4" font-size="8.2">0</tspan></text>
<text x="34.1" y="319.1" text-anchor="end" font-size="11.7">10<tspan dy="-4.4" font-size="8.2">1</tspan></text>
<text x="34.1" y="292.0" text-anchor="end" font-size="11.7">10<tspan dy="-4.4" font-size="8.2">2</tspan></text>
<text x="34.1" y="264.9" text-anchor="end" font-size="11.7">10<tspan dy="-4.4" font-size="8.2">3</tspan></text>
<text x="34.1" y="237.8" text-anchor="end" font-size="11.7">10<tspan dy="-4.4" font-size="8.2">4</tspan></text>
<text x="34.1" y="210.7" text-anchor="end" font-size="11.7">10<tspan dy="-4.4" font-size="8.2">5</tspan></text>
<text x="38.0" y="353.8" text-anchor="middle" font-size="11.7">0</text>
<text x="68.6" y="353.8" text-anchor="middle" font-size="11.7">1</text>
<text x="99.1" y="353.8" text-anchor="middle" font-size="11.7">2</text>
<text x="129.7" y="353.8" text-anchor="middle" font-size="11.7">3</text>
<text x="160.3" y="353.8" text-anchor="middle" font-size="11.7">4</text>
<text x="190.8" y="353.8" text-anchor="middle" font-size="11.7">5</text>
<text x="221.4" y="353.8" text-anchor="middle" font-size="11.7">6</text>
<text x="252.0" y="353.8" text-anchor="middle" font-size="11.7">7</text>
<text x="282.6" y="353.8" text-anchor="middle" font-size="11.7">8</text>
<text x="313.1" y="353.8" text-anchor="middle" font-size="11.7">9</text>
<text x="343.7" y="353.8" text-anchor="middle" font-size="11.7">10</text>
<text x="190.9" y="367.6" text-anchor="middle" font-size="11.7">z</text>
<text x="191" y="8.7" text-anchor="middle" font-size="11.8">Hydrogen lines detection</text>
<text transform="translate(10.0,95.4) rotate(-90)" text-anchor="middle" font-size="11.4">dN/dz</text>
<text transform="translate(10.0,260.3) rotate(-90)" text-anchor="middle" font-size="11.4">dN/dz</text>
<text x="40.8" y="167.8" font-size="11.7">UDS</text>
<text x="40.8" y="332.6" font-size="11.7">DS</text>
</g>
</svg>
</body></html>
